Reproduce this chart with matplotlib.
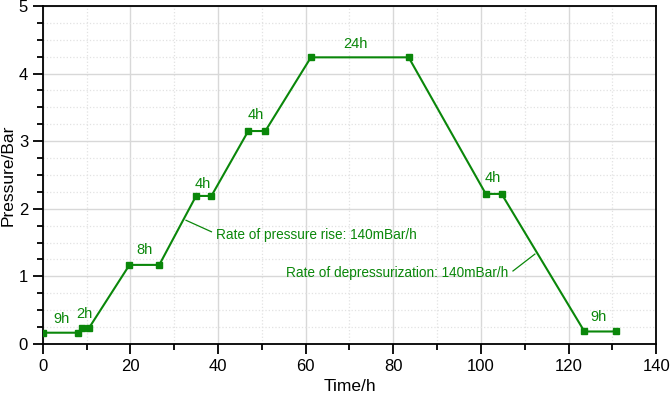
#Imports
import numpy as np
import matplotlib.pyplot as plt
from matplotlib.ticker import MultipleLocator

#Data
time_h = [0, 8, 9, 10.6, 19.8, 26.6, 35.0, 38.5, 46.9, 50.8, 61.2, 83.5, 101.1, 104.7, 123.6, 130.8]
pressure_bar = [0.167, 0.167, 0.24, 0.24, 1.17, 1.17, 2.19, 2.19, 3.15, 3.15, 4.24, 4.24, 2.22, 2.22, 0.185, 0.185]

#Hold duration labels (x, y, text)
hold_x = [4.2, 9.4, 23.3, 36.6, 48.5, 71.3, 102.7, 126.8]
hold_y = [0.37, 0.44, 1.39, 2.37, 3.38, 4.43, 2.45, 0.40]
hold_txt = ["9h", "2h", "8h", "4h", "4h", "24h", "4h", "9h"]

#Rate labels: leader line (x0, y0, x1, y1) and text
rise_line = ([32.7, 38.5], [1.83, 1.66])
rise_txt = "Rate of pressure rise: 140mBar/h"
drop_line = ([107.3, 112.3], [1.08, 1.33])
drop_txt = "Rate of depressurization: 140mBar/h"

#Style
green = '#0a870a'
plt.rcParams['font.family'] = ['Liberation Sans', 'DejaVu Sans']

fig = plt.figure(figsize=(6.71, 3.97), dpi=100)
ax = fig.add_axes([0.0636, 0.1335, 0.9145, 0.8515])

ax.plot(time_h, pressure_bar, color=green, lw=1.5, marker='s', ms=4.2, zorder=3)

for x, y, t in zip(hold_x, hold_y, hold_txt):
    ax.text(x, y, t, color=green, fontsize=10.5, ha='center', va='center')

#Rate annotations
ax.plot(*rise_line, color=green, lw=0.9)
ax.text(39.5, 1.61, rise_txt, color=green, fontsize=9.8, ha='left', va='center')
ax.plot(*drop_line, color=green, lw=0.9)
ax.text(106.2, 1.05, drop_txt, color=green, fontsize=9.8, ha='right', va='center')

#Axes, ticks and grid
ax.set_xlim(0, 140)
ax.set_ylim(0, 5)
ax.xaxis.set_major_locator(MultipleLocator(20))
ax.xaxis.set_minor_locator(MultipleLocator(10))
ax.yaxis.set_major_locator(MultipleLocator(1))
ax.yaxis.set_minor_locator(MultipleLocator(0.25))
ax.tick_params(which='major', direction='out', length=7, width=1.3, labelsize=12)
ax.tick_params(which='minor', direction='out', length=4, width=1.3)
ax.grid(which='major', color='#d8d8d8', lw=1.0, ls='-', zorder=0)
ax.grid(which='minor', color='#e2e2e2', lw=0.9, ls=':', zorder=0)
ax.set_axisbelow(True)
for s in ax.spines.values():
    s.set_linewidth(1.3)

ax.set_xlabel('Time/h', fontsize=12.5, labelpad=4)
ax.set_ylabel('Pressure/Bar', fontsize=12.5, labelpad=2)

fig.savefig('out.png', dpi=100)
